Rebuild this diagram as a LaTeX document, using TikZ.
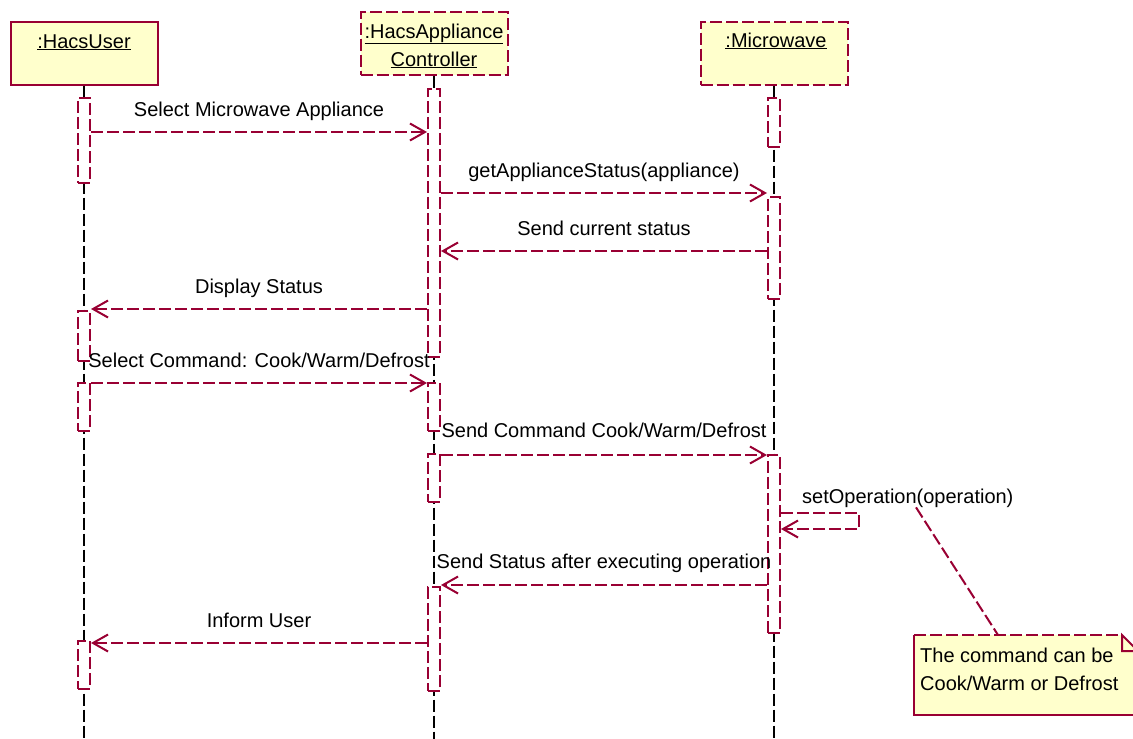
\documentclass[tikz,border=0pt]{standalone}
\usepackage{fontspec}
\setmainfont{Liberation Sans}
\usetikzlibrary{arrows.meta}
\definecolor{umlred}{RGB}{153,0,51}
\definecolor{umlfill}{RGB}{255,255,204}
\tikzset{
  umldash/.style={dash pattern=on 12pt off 4pt},
  obj/.style={draw=umlred, fill=umlfill, line width=2pt, minimum width=147pt, minimum height=63pt, inner sep=0pt},
  lifeline/.style={black, line width=1.8pt, umldash},
  actbar/.style={draw=umlred, fill=white, line width=2pt, umldash, minimum width=12pt, inner sep=0pt},
  msg/.style={umlred, line width=2pt, umldash, -{Straight Barb[length=15pt,width=17pt,line width=2pt]}},
  lbl/.style={black, font=\fontsize{20}{29}\selectfont, inner sep=0pt},
}
\begin{document}
\begin{tikzpicture}[x=1pt, y=-1pt]
    \useasboundingbox (0,0) rectangle (1133,739);

    % Objects
    \node[obj] (user) at (84,53) {};
    \node[obj, umldash] (ctrl) at (434,43) {};
    \node[obj, umldash] (micro) at (774,53) {};
    \node[lbl, anchor=base] (userT) at (84,48) {\underline{:HacsUser}};
    \node[lbl, anchor=base] (ctrlT) at (434,38) {\underline{:HacsAppliance}};
    \node[lbl, anchor=base] (ctrlU) at (434,66) {\underline{Controller}};
    \node[lbl, anchor=base] (microT) at (776,47) {\underline{:Microwave}};

    % Lifelines
    \foreach \o in {user,ctrl,micro} \draw[lifeline] (\o.south) -- (\o.south |- 0,739);

    % Activation bars
    \foreach \n/\x/\t/\b in {ub1/84/98/183, ub2/84/311/361, ub3/84/383/431, ub4/84/641/689,
        cb1/434/89/357, cb2/434/383/431, cb3/434/454/502, cb4/434/587/691,
        mb1/774/98/147, mb2/774/197/299, mb3/774/455/633}
        \node[actbar, minimum height={(\b-\t)*1pt}] (\n) at (\x,{(\t+\b)/2}) {};

    % Messages
    \draw[msg] (ub1.east |- 0,132) -- node[lbl, anchor=base, yshift=16pt] (m1) {Select Microwave Appliance} (cb1.west |- 0,132);
    \draw[msg] (cb1.east |- 0,193) -- node[lbl, anchor=base, yshift=16pt] (m2) {getApplianceStatus(appliance)} (mb2.west |- 0,193);
    \draw[msg] (mb2.west |- 0,251) -- node[lbl, anchor=base, yshift=16pt] (m3) {Send current status} (cb1.east |- 0,251);
    \draw[msg] (cb1.west |- 0,309) -- node[lbl, anchor=base, yshift=16pt] (m4) {Display Status} (ub2.east |- 0,309);
    \draw[msg] (ub3.east |- 0,383) -- node[lbl, anchor=base, yshift=16pt] (m5) {Select Command: Cook/Warm/Defrost} (cb2.west |- 0,383);
    \draw[msg] (cb3.east |- 0,455) -- node[lbl, anchor=base, yshift=18pt] (m6) {Send Command Cook/Warm/Defrost} (mb3.west |- 0,455);
    \draw[msg] (mb3.east |- 0,513) -- ++(78,0) -- ++(0,16) -- (mb3.east |- 0,529);
    \node[lbl, anchor=base west] (m7) at (802,503) {setOperation(operation)};
    \draw[msg] (mb3.west |- 0,585) -- node[lbl, anchor=base, yshift=17pt] (m8) {Send Status after executing operation} (cb4.east |- 0,585);
    \draw[msg] (cb4.west |- 0,643) -- node[lbl, anchor=base, yshift=16pt] (m9) {Inform User} (ub4.east |- 0,643);

    % Note
    \fill[umlfill] (914,635) -- (1122,635) -- (1138,651) -- (1138,715) -- (914,715) -- cycle;
    \draw[umlred, line width=2pt, umldash] (914,635) -- (1122,635);
    \draw[umlred, line width=2pt] (914,635) -- (914,715) -- (1138,715);
    \draw[umlred, line width=2pt] (1122,635) -- (1122,651) -- (1138,651) -- cycle;
    \coordinate (noteTop) at (998,635);
    \node[lbl, anchor=base west, align=left] (noteT1) at (920,662) {The command can be};
    \node[lbl, anchor=base west, align=left] (noteT2) at (920,690) {Cook/Warm or Defrost};
    \draw[umlred, line width=2pt, umldash] (m7.south -| 916,0) -- (noteTop);
\end{tikzpicture}
\end{document}
